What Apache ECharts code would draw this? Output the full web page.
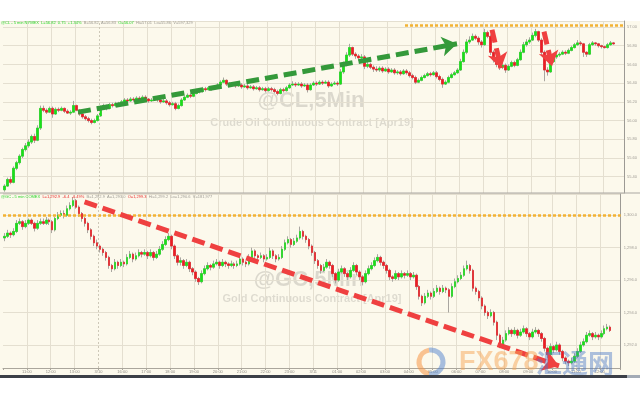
<!DOCTYPE html>
<html><head><meta charset="utf-8">
<script src="https://cdn.jsdelivr.net/npm/echarts@6/dist/echarts.min.js"></script>
<style>html,body{margin:0;padding:0;background:#fff}#c{width:640px;height:400px}</style>
</head><body><div id="c"></div>
<script>
// ---------- data ----------
const xTickLabels = ['', '11:00','12:00','13:00','3/10','16:00','17:00','18:00','19:00','20:00','21:00','22:00','23:00','3/11','01:00','02:00','03:00','04:00','05:00','06:00','07:00','08:00','09:00','10:00','11:00','12:00'];
const dateBreakHour = 4;

// Crude oil 5-min (open of each bar = previous close)
const clFirstOpen = 55.26;
const clClose = [
55.30,55.37,55.34,55.49,55.55,55.62,55.69,55.73,55.77,55.83,
55.79,55.92,56.13,56.11,56.09,56.13,56.07,56.12,56.11,56.13,
56.10,56.08,56.09,56.16,56.11,56.07,56.04,56.02,56.00,55.98,
56.00,56.05,56.13,56.16,56.13,56.17,56.16,56.18,56.17,56.20,
56.22,56.21,56.23,56.22,56.24,56.23,56.25,56.23,56.21,56.22,
56.24,56.22,56.20,56.21,56.19,56.17,56.18,56.13,56.16,56.22,
56.25,56.27,56.26,56.29,56.32,56.31,56.34,56.33,56.35,56.34,
56.36,56.38,56.41,56.43,56.39,56.38,56.39,56.37,56.38,56.36,
56.37,56.35,56.36,56.34,56.35,56.33,56.34,56.32,56.34,56.33,
56.31,56.29,56.33,56.32,56.35,56.38,56.39,56.38,56.39,56.37,
56.38,56.33,56.38,56.40,56.39,56.41,56.40,56.41,56.37,56.39,
56.40,56.39,56.52,56.60,56.70,56.78,56.71,56.69,56.67,56.68,
56.58,56.60,56.57,56.55,56.54,56.56,56.53,56.55,56.52,56.54,
56.51,56.52,56.50,56.53,56.51,56.48,56.46,56.41,56.43,56.46,
56.48,56.50,56.49,56.51,56.47,56.44,56.39,56.41,56.46,56.49,
56.51,56.54,56.63,56.73,56.84,56.86,56.90,56.88,56.84,56.81,
56.94,56.90,56.73,56.65,56.60,56.57,56.59,56.54,56.58,56.62,
56.59,56.65,56.73,56.81,56.84,56.86,56.91,56.95,56.86,56.73,
56.54,56.52,56.63,56.68,56.70,56.71,56.73,56.72,56.75,56.78,
56.81,56.83,56.82,56.73,56.71,56.81,56.83,56.82,56.80,56.79,
56.78,56.81,56.83,56.82];
const clHigh = [
55.32,55.39,55.40,55.51,55.57,55.64,55.71,55.76,55.80,55.85,
55.86,55.95,56.16,56.16,56.13,56.15,56.15,56.14,56.14,56.15,
56.14,56.12,56.11,56.21,56.17,56.12,56.09,56.06,56.04,56.02,
56.02,56.07,56.16,56.18,56.17,56.19,56.19,56.20,56.20,56.22,
56.24,56.24,56.25,56.25,56.26,56.26,56.27,56.27,56.24,56.24,
56.26,56.26,56.23,56.23,56.23,56.21,56.20,56.20,56.18,56.24,
56.27,56.29,56.29,56.31,56.34,56.34,56.36,56.36,56.37,56.37,
56.38,56.40,56.43,56.46,56.44,56.41,56.41,56.40,56.40,56.40,
56.39,56.39,56.38,56.38,56.37,56.37,56.36,56.36,56.36,56.36,
56.35,56.33,56.35,56.35,56.37,56.40,56.42,56.41,56.41,56.41,
56.40,56.40,56.40,56.42,56.42,56.43,56.43,56.43,56.43,56.41,
56.42,56.42,56.55,56.63,56.73,56.82,56.79,56.73,56.71,56.71,
56.70,56.63,56.62,56.59,56.58,56.58,56.58,56.57,56.57,56.56,
56.56,56.54,56.54,56.55,56.55,56.53,56.50,56.48,56.45,56.48,
56.50,56.52,56.52,56.53,56.53,56.49,56.46,56.43,56.48,56.51,
56.53,56.56,56.66,56.76,56.87,56.90,56.93,56.92,56.90,56.86,
56.98,56.96,56.92,56.75,56.67,56.62,56.62,56.61,56.60,56.64,
56.64,56.67,56.76,56.84,56.87,56.89,56.94,56.98,56.96,56.88,
56.75,56.57,56.65,56.70,56.72,56.73,56.75,56.75,56.77,56.80,
56.83,56.86,56.85,56.83,56.74,56.83,56.85,56.84,56.83,56.81,
56.80,56.83,56.85,56.84];
const clLow = [
55.24,55.29,55.32,55.33,55.47,55.53,55.60,55.67,55.71,55.75,
55.76,55.78,55.90,56.09,56.07,56.08,56.03,56.06,56.09,56.10,
56.08,56.07,56.06,56.08,56.10,56.05,56.02,56.00,55.98,55.96,
55.97,55.99,56.04,56.12,56.11,56.12,56.14,56.15,56.15,56.16,
56.19,56.19,56.20,56.20,56.21,56.21,56.22,56.21,56.19,56.20,
56.21,56.20,56.18,56.19,56.17,56.15,56.16,56.11,56.12,56.15,
56.21,56.24,56.24,56.25,56.28,56.29,56.30,56.31,56.32,56.32,
56.33,56.35,56.37,56.40,56.37,56.36,56.37,56.35,56.36,56.34,
56.35,56.33,56.34,56.32,56.33,56.31,56.32,56.30,56.31,56.31,
56.29,56.27,56.28,56.30,56.31,56.34,56.37,56.36,56.37,56.35,
56.36,56.30,56.32,56.37,56.37,56.38,56.38,56.39,56.35,56.36,
56.38,56.37,56.38,56.50,56.58,56.68,56.69,56.66,56.64,56.65,
56.55,56.56,56.55,56.52,56.52,56.52,56.51,56.52,56.50,56.51,
56.49,56.49,56.48,56.49,56.49,56.46,56.44,56.39,56.40,56.42,
56.45,56.47,56.47,56.48,56.45,56.42,56.35,56.38,56.40,56.45,
56.48,56.50,56.53,56.62,56.71,56.82,56.85,56.86,56.81,56.78,
56.80,56.88,56.70,56.62,56.57,56.54,56.55,56.51,56.53,56.57,
56.57,56.58,56.64,56.72,56.79,56.82,56.85,56.89,56.84,56.70,
56.42,56.48,56.51,56.62,56.66,56.68,56.70,56.70,56.71,56.74,
56.77,56.80,56.80,56.68,56.68,56.70,56.80,56.80,56.78,56.77,
56.77,56.77,56.80,56.81];

// Gold 5-min
const gcFirstOpen = 1298.6;
const gcClose = [
1298.7,1298.9,1298.8,1299.0,1299.5,1299.6,1299.3,1299.5,1299.7,1299.5,
1299.2,1299.5,1299.6,1299.5,1299.7,1299.6,1299.1,1299.8,1300.0,1300.1,
1300.0,1300.4,1300.6,1300.9,1300.5,1300.1,1299.8,1299.5,1299.1,1298.7,
1298.3,1298.1,1297.9,1297.7,1297.4,1296.9,1296.7,1297.1,1296.9,1297.1,
1297.0,1297.4,1297.6,1297.3,1297.5,1297.7,1297.6,1297.7,1297.5,1297.7,
1297.4,1297.6,1297.9,1298.2,1298.5,1298.7,1298.1,1297.5,1297.1,1297.2,
1296.9,1297.1,1296.7,1296.5,1296.1,1295.9,1296.4,1296.7,1296.9,1296.8,
1297.0,1297.1,1296.9,1297.1,1297.0,1296.9,1297.0,1296.9,1297.0,1297.3,
1297.1,1297.0,1297.4,1297.8,1297.5,1297.4,1297.5,1297.3,1297.4,1297.8,
1297.5,1297.3,1297.4,1297.9,1298.3,1298.5,1298.2,1298.4,1298.6,1299.0,
1298.7,1298.5,1298.1,1297.7,1297.2,1296.9,1296.6,1296.8,1297.1,1296.9,
1296.4,1296.0,1296.5,1296.7,1296.4,1296.2,1296.6,1296.9,1296.5,1296.2,
1295.9,1296.4,1296.7,1296.9,1297.2,1297.4,1297.1,1296.9,1296.6,1296.2,
1296.1,1296.4,1296.2,1296.4,1296.3,1296.4,1296.2,1296.3,1295.6,1295.0,
1294.6,1295.0,1295.2,1295.0,1295.3,1295.5,1295.3,1295.5,1295.4,1295.0,
1295.6,1295.9,1296.1,1296.3,1296.7,1296.9,1296.6,1295.5,1295.3,1294.9,
1294.4,1294.0,1293.8,1294.0,1293.4,1292.6,1292.0,1292.3,1292.7,1292.9,
1292.7,1292.9,1292.6,1292.8,1293.0,1292.7,1292.5,1292.8,1292.9,1292.7,
1292.4,1291.8,1291.4,1291.9,1291.7,1292.0,1291.6,1291.2,1291.0,1290.9,
1291.0,1291.3,1291.6,1292.0,1292.2,1292.6,1292.7,1292.5,1292.6,1292.5,
1292.7,1293.0,1293.1,1292.9];
const gcHigh = [
1298.9,1299.1,1299.0,1299.2,1299.7,1299.8,1299.7,1299.7,1299.8,1299.8,
1299.6,1299.7,1299.8,1299.8,1299.9,1299.8,1299.7,1299.9,1300.2,1300.3,
1300.3,1300.6,1300.8,1301.1,1301.0,1300.6,1300.2,1299.9,1299.6,1299.2,
1298.8,1298.5,1298.2,1298.0,1297.8,1297.5,1297.0,1297.3,1297.2,1297.3,
1297.2,1297.6,1297.8,1297.7,1297.7,1297.9,1297.8,1297.9,1297.8,1297.9,
1297.8,1297.8,1298.1,1298.4,1298.7,1298.9,1298.8,1298.2,1297.6,1297.4,
1297.3,1297.3,1297.2,1296.8,1296.6,1296.2,1296.6,1296.9,1297.1,1297.0,
1297.2,1297.3,1297.2,1297.3,1297.2,1297.1,1297.2,1297.1,1297.2,1297.5,
1297.4,1297.2,1297.6,1298.0,1297.9,1297.6,1297.7,1297.6,1297.6,1298.0,
1297.9,1297.6,1297.6,1298.1,1298.5,1298.7,1298.6,1298.6,1298.8,1299.3,
1299.1,1298.8,1298.6,1298.2,1297.8,1297.3,1297.0,1297.0,1297.3,1297.2,
1297.0,1296.5,1296.7,1296.9,1296.8,1296.5,1296.8,1297.1,1297.0,1296.6,
1296.3,1296.6,1296.9,1297.1,1297.4,1297.6,1297.5,1297.2,1297.0,1296.7,
1296.3,1296.6,1296.5,1296.6,1296.5,1296.6,1296.5,1296.5,1296.4,1295.7,
1295.1,1295.2,1295.4,1295.3,1295.5,1295.7,1295.6,1295.7,1295.6,1295.5,
1295.8,1296.1,1296.3,1296.5,1296.9,1297.2,1297.0,1296.7,1295.6,1295.4,
1295.0,1294.5,1294.1,1294.2,1294.1,1293.5,1292.7,1292.5,1292.9,1293.1,
1293.0,1293.1,1293.0,1293.0,1293.2,1293.1,1292.8,1293.0,1293.1,1293.0,
1292.8,1292.5,1291.9,1292.1,1292.0,1292.2,1292.1,1291.7,1291.3,1291.1,
1291.2,1291.5,1291.8,1292.2,1292.4,1292.8,1292.9,1292.8,1292.8,1292.7,
1292.9,1293.2,1293.3,1293.2];
const gcLow = [
1298.4,1298.6,1298.6,1298.7,1298.9,1299.4,1299.1,1299.2,1299.4,1299.4,
1299.0,1299.1,1299.4,1299.4,1299.4,1299.4,1298.9,1299.0,1299.7,1299.9,
1299.8,1299.9,1300.3,1300.5,1300.4,1299.9,1299.6,1299.3,1298.9,1298.5,
1298.1,1297.9,1297.7,1297.5,1297.2,1296.7,1296.5,1296.6,1296.7,1296.8,
1296.8,1296.9,1297.3,1297.1,1297.2,1297.4,1297.4,1297.5,1297.3,1297.4,
1297.2,1297.3,1297.5,1297.8,1298.1,1298.4,1297.9,1297.3,1296.9,1296.9,
1296.7,1296.8,1296.5,1296.3,1295.9,1295.7,1295.8,1296.3,1296.6,1296.6,
1296.7,1296.9,1296.7,1296.8,1296.8,1296.7,1296.8,1296.7,1296.8,1296.9,
1296.9,1296.8,1296.9,1297.3,1297.3,1297.2,1297.3,1297.1,1297.2,1297.3,
1297.3,1297.1,1297.2,1297.3,1297.8,1298.2,1298.0,1298.1,1298.3,1298.5,
1298.5,1298.3,1297.9,1297.5,1297.0,1296.7,1296.4,1296.5,1296.7,1296.7,
1296.2,1295.8,1295.9,1296.4,1296.2,1296.0,1296.1,1296.5,1296.3,1296.0,
1295.7,1295.8,1296.3,1296.6,1296.8,1297.1,1296.9,1296.7,1296.4,1296.0,
1295.9,1296.0,1296.0,1296.1,1296.1,1296.2,1296.0,1296.1,1295.4,1294.8,
1294.4,1294.5,1294.9,1294.8,1294.9,1295.2,1295.1,1295.2,1295.2,1294.0,
1294.9,1295.5,1295.8,1296.0,1296.2,1296.6,1296.4,1295.3,1295.1,1294.7,
1294.2,1293.8,1293.6,1293.7,1293.2,1292.3,1291.8,1291.9,1292.2,1292.6,
1292.5,1292.6,1292.4,1292.5,1292.7,1292.5,1292.3,1292.4,1292.7,1292.5,
1292.2,1291.6,1291.2,1291.3,1291.5,1291.6,1291.4,1291.0,1290.8,1290.7,
1290.8,1290.9,1291.2,1291.5,1291.9,1292.1,1292.5,1292.3,1292.4,1292.3,
1292.4,1292.6,1292.9,1292.8];

const clLevel = 57.02, gcLevel = 1300.0;
const clLast = 56.82, gcLast = 1292.9;

// annotation arrows: [startHour, startPrice, endHour, endPrice]
const clUpArrow = [3.125, 56.09, 18.917, 56.82];
const clDownArrow1 = [20.375, 56.97, 20.75, 56.56];
const clDownArrow2 = [22.542, 56.95, 22.875, 56.58];
const gcDownArrow = [3.417, 1300.82, 23.292, 1290.71];
const clLevelStartHour = 16.75;

// ---------- build ----------
function ohlc(first, close, low, high) {
  return close.map((c, i) => [i === 0 ? first : close[i - 1], c, low[i], high[i]]);
}
function bodies(rows) {
  return rows.map(r => [r[0], r[1], Math.min(r[0], r[1]), Math.max(r[0], r[1])]);
}
const clData = ohlc(clFirstOpen, clClose, clLow, clHigh);
const gcData = ohlc(gcFirstOpen, gcClose, gcLow, gcHigh);
const nCat = 207;
const cats = Array.from({length: nCat}, (_, i) => String(i));
const HOURS = 25.875;

const UP = '#19e019', DOWN = '#ee1c24', WICK = '#a9a6a0';
const GRIDC = '#e4dfd0';
const splitColors = Array.from({length: 30}, (_, k) => (k === dateBreakHour || k === 0) ? 'rgba(0,0,0,0)' : GRIDC);
const tinyFont = '"Liberation Sans", Arial, sans-serif';

function nice(v, step) { return Math.abs(v / step - Math.round(v / step)) < 1e-6; }

function wickSeries(data, xi, yi) {
  return { type: 'candlestick', xAxisIndex: xi, yAxisIndex: yi, data: data, barWidth: 2,
    itemStyle: { color: UP, color0: DOWN, borderColor: WICK, borderColor0: WICK, borderWidth: 1 }, silent: true };
}
function bodySeries(data, xi, yi, extraMark) {
  return { type: 'candlestick', xAxisIndex: xi, yAxisIndex: yi, data: bodies(data), barWidth: 2,
    itemStyle: { color: UP, color0: DOWN, borderColor: UP, borderColor0: DOWN, borderWidth: 0.6 }, silent: true,
    markLine: extraMark };
}
function arrowPair(a) { return [{ coord: [a[0], a[1]] }, { coord: [a[2], a[3]] }]; }

const arrowStyleG = { color: '#34993a', width: 5, type: [13, 6], opacity: 1 };
const arrowStyleR = { color: '#ef4040', width: 5, type: [13, 6], opacity: 1 };

function tagMark(value, text) {
  return { yAxis: value, lineStyle: { opacity: 0 },
    label: { show: true, position: 'end', distance: 1, formatter: text, backgroundColor: '#2fee2f', color: '#ffffff',
      fontSize: 4, fontFamily: tinyFont, padding: [1, 2, 1, 2] } };
}

const yLine = { show: true, onZero: false, lineStyle: { color: '#9c9a94' } };

const option = {
  backgroundColor: '#ffffff',
  animation: false,
  grid: [
    { left: 3, right: 16, top: 21, height: 172 },
    { left: 3, right: 16, top: 194, height: 174 }
  ],
  xAxis: [
    { type: 'category', gridIndex: 0, data: cats, show: false },
    { type: 'value', gridIndex: 0, min: 0, max: HOURS, interval: 1, axisLine: { show: false, onZero: false }, axisTick: { show: false }, axisLabel: { show: false },
      splitLine: { show: true, lineStyle: { color: splitColors, width: 1 } } },
    { type: 'category', gridIndex: 1, data: cats, show: false },
    { type: 'value', gridIndex: 1, min: 0, max: HOURS, interval: 1, position: 'bottom',
      axisLine: { show: true, onZero: false, lineStyle: { color: '#aaa69c', width: 1 } },
      axisTick: { show: true, length: 2, lineStyle: { color: '#aaa69c' } },
      axisLabel: { show: true, fontSize: 4, fontFamily: tinyFont, color: '#8f8c85', margin: 2,
        formatter: v => (Math.abs(v - Math.round(v)) < 1e-6 && xTickLabels[Math.round(v)]) || '' },
      splitLine: { show: true, lineStyle: { color: splitColors, width: 1 } } }
  ],
  yAxis: [
    { type: 'value', gridIndex: 0, position: 'right', min: 55.226, max: 57.064, splitNumber: 9, minInterval: 0.2, maxInterval: 0.2,
      axisLine: yLine, axisTick: { show: false },
      axisLabel: { fontSize: 4, fontFamily: tinyFont, color: '#a09d96', margin: 3,
        formatter: v => nice(v, 0.2) ? v.toFixed(2) : '' },
      splitLine: { show: true, lineStyle: { color: GRIDC } } },
    { type: 'value', gridIndex: 1, position: 'right', min: 1290.58, max: 1301.31, splitNumber: 5, minInterval: 2, maxInterval: 2,
      axisLine: yLine, axisTick: { show: false },
      axisLabel: { fontSize: 4, fontFamily: tinyFont, color: '#a09d96', margin: 3,
        formatter: v => nice(v, 2) ? v.toLocaleString('en-US', { minimumFractionDigits: 1, maximumFractionDigits: 1 }) : '' },
      splitLine: { show: true, lineStyle: { color: GRIDC } } }
  ],
  series: [
    wickSeries(clData, 0, 0),
    bodySeries(clData, 0, 0, { silent: true, symbol: 'none', data: [tagMark(clLast, String(clLast))] }),
    wickSeries(gcData, 2, 1),
    bodySeries(gcData, 2, 1, { silent: true, symbol: 'none', data: [
      { yAxis: gcLevel, lineStyle: { color: '#f2b234', type: [3, 2], width: 2.5 }, label: { show: false } },
      tagMark(gcLast, gcLast.toLocaleString('en-US', { minimumFractionDigits: 1 }))
    ] }),
    // annotation layer on the hour axis (top)
    { type: 'line', xAxisIndex: 1, yAxisIndex: 0, data: [], silent: true, z: 5,
      markLine: { silent: true, symbol: 'none', label: { show: false }, data: [
        [{ coord: [clLevelStartHour, clLevel] }, { coord: [HOURS, clLevel], lineStyle: { color: '#f2b234', type: [3, 2], width: 2.5 } }],
        { xAxis: dateBreakHour, lineStyle: { color: '#cdc8b8', type: [2, 2], width: 1 } }
      ] } },
    { type: 'line', xAxisIndex: 1, yAxisIndex: 0, data: [], silent: true, z: 6,
      markLine: { silent: true, symbol: ['none', 'arrow'], symbolSize: 15, label: { show: false }, lineStyle: arrowStyleG,
        data: [arrowPair(clUpArrow)] } },
    { type: 'line', xAxisIndex: 1, yAxisIndex: 0, data: [], silent: true, z: 6,
      markLine: { silent: true, symbol: ['none', 'arrow'], symbolSize: 15, label: { show: false }, lineStyle: arrowStyleR,
        data: [arrowPair(clDownArrow1), arrowPair(clDownArrow2)] } },
    // annotation layer (bottom)
    { type: 'line', xAxisIndex: 3, yAxisIndex: 1, data: [], silent: true, z: 5,
      markLine: { silent: true, symbol: 'none', label: { show: false }, data: [
        { xAxis: dateBreakHour, lineStyle: { color: '#cdc8b8', type: [2, 2], width: 1 } }
      ] } },
    { type: 'line', xAxisIndex: 3, yAxisIndex: 1, data: [], silent: true, z: 6,
      markLine: { silent: true, symbol: ['none', 'arrow'], symbolSize: 16, label: { show: false }, lineStyle: arrowStyleR,
        data: [arrowPair(gcDownArrow)] } }
  ],
  graphic: [
    { type: 'rect', z: -100, shape: { x: 0, y: 21, width: 640, height: 354 }, style: { fill: '#fcf9ec' } },
    { type: 'text', z: -50, x: 311, y: 101, style: { text: '@CL,5Min', font: 'bold 22px "Liberation Sans", Arial', fill: 'rgba(0,0,0,0.13)', align: 'center', verticalAlign: 'middle' } },
    { type: 'text', z: -50, x: 312, y: 123, style: { text: 'Crude Oil Continuous Contract [Apr19]', font: 'bold 11px "Liberation Sans", Arial', fill: 'rgba(0,0,0,0.12)', align: 'center', verticalAlign: 'middle' } },
    { type: 'text', z: -50, x: 309, y: 280, style: { text: '@GC,5Min', font: 'bold 22px "Liberation Sans", Arial', fill: 'rgba(0,0,0,0.13)', align: 'center', verticalAlign: 'middle' } },
    { type: 'text', z: -50, x: 312, y: 299, style: { text: 'Gold Continuous Contract [Apr19]', font: 'bold 11px "Liberation Sans", Arial', fill: 'rgba(0,0,0,0.12)', align: 'center', verticalAlign: 'middle' } },
    { type: 'rect', z: 50, shape: { x: 0, y: 192.5, width: 640, height: 1 }, style: { fill: '#a9a7a1' } },
    { type: 'text', z: 50, x: 1, y: 23, style: {
      text: '{g|@CL - 5 min NYMEX  L=56.82  0.75  +1.34%}  {d|B=56.82  A=56.83}  {g|O=56.07}  {d|Hi=57.01  Lo=55.86  V=597,329}',
      font: '4px ' + tinyFont, verticalAlign: 'middle',
      rich: { g: { fill: '#2bd42b', fontSize: 4, fontFamily: tinyFont }, d: { fill: '#9e9b94', fontSize: 4, fontFamily: tinyFont } } } },
    { type: 'text', z: 50, x: 1, y: 197, style: {
      text: '{g|@GC - 5 min COMEX}  {r|L=1,292.9  -6.4  -0.49%}  {d|B=1,292.9  A=1,293.0}  {r|O=1,299.3}  {d|Hi=1,299.2  Lo=1,290.6  V=181,977}',
      font: '4px ' + tinyFont, verticalAlign: 'middle',
      rich: { g: { fill: '#2bd42b', fontSize: 4, fontFamily: tinyFont }, r: { fill: '#e82a2a', fontSize: 4, fontFamily: tinyFont }, d: { fill: '#9e9b94', fontSize: 4, fontFamily: tinyFont } } } },
    // FX678 watermark
    { type: 'arc', z: 60, shape: { cx: 431, cy: 362, r: 12, startAngle: Math.PI * 0.55, endAngle: Math.PI * 1.45 }, style: { stroke: 'rgba(245,150,70,0.55)', lineWidth: 5, fill: 'none' } },
    { type: 'arc', z: 60, shape: { cx: 431, cy: 362, r: 12, startAngle: -Math.PI * 0.55, endAngle: Math.PI * 0.55 }, style: { stroke: 'rgba(80,130,205,0.5)', lineWidth: 5, fill: 'none' } },
    { type: 'text', z: 60, x: 459, y: 363, style: { text: 'FX678', font: 'bold 27px "Liberation Sans", Arial', fill: 'rgba(245,165,85,0.5)', verticalAlign: 'middle' } },
    { type: 'text', z: 60, x: 536, y: 363, style: { text: '汇通网', font: 'bold 26px "Noto Sans CJK SC"', fill: 'rgba(75,120,200,0.45)', verticalAlign: 'middle' } },
    { type: 'rect', z: 70, shape: { x: 0, y: 375, width: 640, height: 3 }, style: { fill: '#3b3f47' } },
    { type: 'rect', z: 71, shape: { x: 627, y: 375, width: 13, height: 3 }, style: { fill: '#a3abb5' } }
  ]
};

const chart = echarts.init(document.getElementById('c'), null, { renderer: 'canvas' });
chart.setOption(option);
</script>
</body></html>
